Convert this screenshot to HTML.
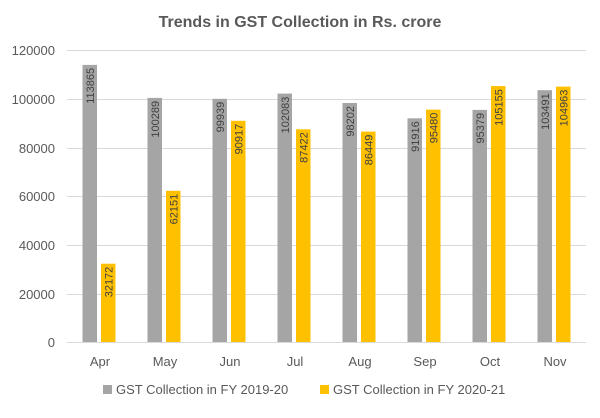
<!DOCTYPE html>
<html><head><style>body{margin:0;background:#fff}</style></head><body>
<svg width="600" height="413" xmlns="http://www.w3.org/2000/svg" font-family="Liberation Sans, sans-serif">
<rect width="600" height="413" fill="#fff"/>
<text x="300" y="27" text-anchor="middle" font-size="16" font-weight="bold" fill="#595959">Trends in GST Collection in Rs. crore</text>
<g stroke="#d9d9d9" stroke-width="1">
<line x1="67" x2="586" y1="50.5" y2="50.5"/><line x1="67" x2="586" y1="99.5" y2="99.5"/>
<line x1="67" x2="586" y1="148.5" y2="148.5"/><line x1="67" x2="586" y1="196.5" y2="196.5"/>
<line x1="67" x2="586" y1="245.5" y2="245.5"/><line x1="67" x2="586" y1="294.5" y2="294.5"/>
<line x1="67" x2="586" y1="342.5" y2="342.5"/>
</g>
<g font-size="13" fill="#595959" text-anchor="end">
<text x="55" y="55">120000</text><text x="55" y="104">100000</text><text x="55" y="153">80000</text>
<text x="55" y="201">60000</text><text x="55" y="250">40000</text><text x="55" y="299">20000</text><text x="55" y="347">0</text>
</g>
<g fill="#a5a5a5">
<rect x="82.5" y="64.9" width="14.5" height="277.1"/>
<rect x="147.5" y="97.9" width="14.5" height="244.1"/>
<rect x="212.5" y="98.8" width="14.5" height="243.2"/>
<rect x="277.5" y="93.6" width="14.5" height="248.4"/>
<rect x="342.5" y="103" width="14.5" height="239"/>
<rect x="407.5" y="118.3" width="14.5" height="223.7"/>
<rect x="472.5" y="109.9" width="14.5" height="232.1"/>
<rect x="537.5" y="90.2" width="14.5" height="251.8"/>
</g>
<g fill="#ffc000">
<rect x="101" y="263.7" width="14.5" height="78.3"/>
<rect x="166" y="190.8" width="14.5" height="151.2"/>
<rect x="231" y="120.8" width="14.5" height="221.2"/>
<rect x="296" y="129.3" width="14.5" height="212.7"/>
<rect x="361" y="131.6" width="14.5" height="210.4"/>
<rect x="426" y="109.6" width="14.5" height="232.4"/>
<rect x="491" y="86.1" width="14.5" height="255.9"/>
<rect x="556" y="86.6" width="14.5" height="255.4"/>
</g>
<g font-size="11" fill="#404040" text-anchor="end">
<text transform="translate(94,67.9) rotate(-90)">113865</text>
<text transform="translate(159,100.9) rotate(-90)">100289</text>
<text transform="translate(224,101.8) rotate(-90)">99939</text>
<text transform="translate(289,96.6) rotate(-90)">102083</text>
<text transform="translate(354,106) rotate(-90)">98202</text>
<text transform="translate(419,121.3) rotate(-90)">91916</text>
<text transform="translate(484,112.9) rotate(-90)">95379</text>
<text transform="translate(549,93.2) rotate(-90)">103491</text>
<text transform="translate(112.5,266.7) rotate(-90)">32172</text>
<text transform="translate(177.5,193.8) rotate(-90)">62151</text>
<text transform="translate(242.5,123.8) rotate(-90)">90917</text>
<text transform="translate(307.5,132.3) rotate(-90)">87422</text>
<text transform="translate(372.5,134.6) rotate(-90)">86449</text>
<text transform="translate(437.5,112.6) rotate(-90)">95480</text>
<text transform="translate(502.5,89.1) rotate(-90)">105155</text>
<text transform="translate(567.5,89.6) rotate(-90)">104963</text>
</g>
<g font-size="13" fill="#595959" text-anchor="middle">
<text x="100" y="366">Apr</text><text x="165" y="366">May</text><text x="230" y="366">Jun</text><text x="295" y="366">Jul</text>
<text x="360" y="366">Aug</text><text x="425" y="366">Sep</text><text x="490" y="366">Oct</text><text x="555" y="366">Nov</text>
</g>
<rect x="103" y="385" width="9" height="9" fill="#a5a5a5"/>
<text x="116" y="394" font-size="13" fill="#595959">GST Collection in FY 2019-20</text>
<rect x="320" y="385" width="9" height="9" fill="#ffc000"/>
<text x="333" y="394" font-size="13" fill="#595959">GST Collection in FY 2020-21</text>
</svg>
</body></html>
